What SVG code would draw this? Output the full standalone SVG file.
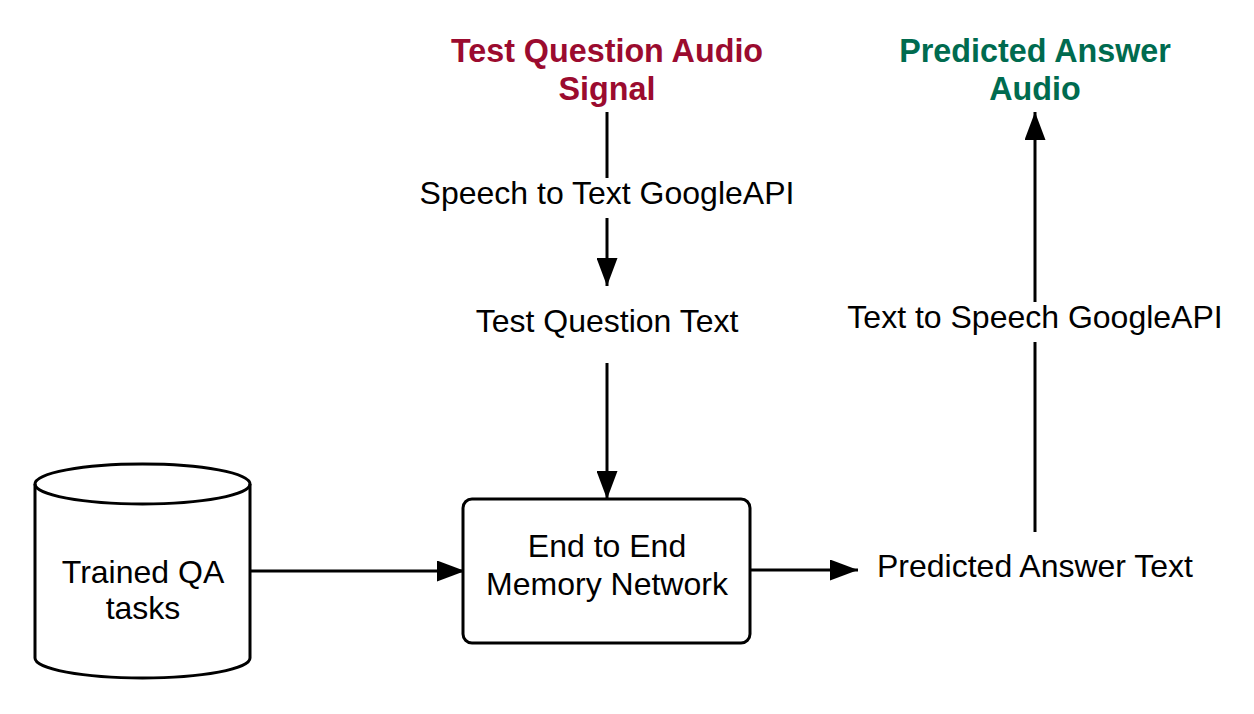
<svg xmlns="http://www.w3.org/2000/svg" width="1254" height="714" viewBox="0 0 1254 714">
<defs>
<style>
text{font-family:"Liberation Sans",Arial,sans-serif;font-size:32px;fill:#000;text-anchor:middle}
.title{font-weight:bold;font-size:32.3px}
.red{fill:#9b0b2f}
.green{fill:#006b4f}
.shape{fill:#fff;stroke:#000;stroke-width:3}
.conn{fill:none;stroke:#000;stroke-width:3}
</style>
<marker id="ah" viewBox="0 0 28 21" refX="28" refY="10.5" markerWidth="28" markerHeight="21" markerUnits="userSpaceOnUse" orient="auto">
<path d="M0,0 L28,10.5 L0,21 Z" fill="#000"/>
</marker>
</defs>
<rect width="1254" height="714" fill="#fff"/>
<g id="connectors">
<line class="conn" x1="607" y1="112" x2="607" y2="178"/>
<line class="conn" x1="607" y1="218" x2="607" y2="286" marker-end="url(#ah)"/>
<line class="conn" x1="607" y1="363" x2="607" y2="499" marker-end="url(#ah)"/>
<line class="conn" x1="251" y1="571" x2="465" y2="571" marker-end="url(#ah)"/>
<line class="conn" x1="750" y1="570" x2="858" y2="570" marker-end="url(#ah)"/>
<line class="conn" x1="1035" y1="532" x2="1035" y2="342"/>
<line class="conn" x1="1035" y1="302" x2="1035" y2="112" marker-end="url(#ah)"/>
</g>
<g id="test-question-audio">
<text class="title red" x="607" y="62">Test Question Audio</text>
<text class="title red" x="607" y="100">Signal</text>
</g>
<g id="speech-to-text">
<text x="607" y="204">Speech to Text GoogleAPI</text>
</g>
<g id="test-question-text">
<text x="607" y="332">Test Question Text</text>
</g>
<g id="trained-qa">
<path class="shape" d="M35,484 L35,658 A107.5,20 0 0 0 250,658 L250,484 A107.5,20 0 0 0 35,484 Z"/>
<path class="conn" d="M35,484 A107.5,20 0 0 0 250,484"/>
<text x="143" y="583">Trained QA</text>
<text x="143" y="619">tasks</text>
</g>
<g id="memory-network">
<rect class="shape" x="463" y="499" width="287" height="144" rx="9"/>
<text x="607" y="557">End to End</text>
<text x="607" y="595">Memory Network</text>
</g>
<g id="predicted-answer-text">
<text x="1035" y="577">Predicted Answer Text</text>
</g>
<g id="text-to-speech">
<text x="1035" y="328">Text to Speech GoogleAPI</text>
</g>
<g id="predicted-answer-audio">
<text class="title green" x="1035" y="62">Predicted Answer</text>
<text class="title green" x="1035" y="100">Audio</text>
</g>
</svg>
